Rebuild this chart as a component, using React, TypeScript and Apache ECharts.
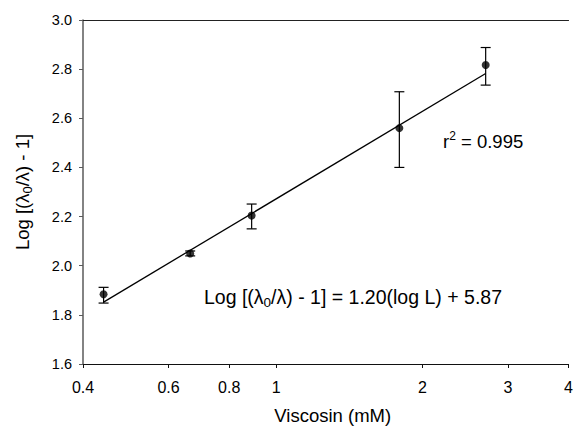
import React, { useEffect, useRef } from "react";
import * as echarts from "echarts";

// Data
const concentrations = [0.441, 0.665, 0.89, 1.793, 2.7]; // Viscosin (mM)
const logRatio = [1.884, 2.05, 2.204, 2.56, 2.817];
const errLow = [1.848, 2.04, 2.15, 2.4, 2.735];
const errHigh = [1.912, 2.06, 2.251, 2.708, 2.888];
const fitX = [0.441, 2.7];
const fitY = [1.852, 2.782];
const xTickValues = [0.4, 0.6, 0.8, 1, 2, 3, 4];
const xTickLabels = ["0.4", "0.6", "0.8", "1", "2", "3", "4"];
const equationText = "1.20(log L) + 5.87";
const r2Text = "0.995";

const FONT = "'Liberation Sans', Arial, Helvetica, sans-serif";

export default function App() {
  const ref = useRef<HTMLDivElement>(null);
  useEffect(() => {
    if (!ref.current) return;
    const chart = echarts.init(ref.current, null, { renderer: "svg" });
    const points = concentrations.map((x, i) => [x, logRatio[i]]);
    const errData = concentrations.map((x, i) => [x, errLow[i], errHigh[i]]);
    const fitData = fitX.map((x, i) => [x, fitY[i]]);
    const richMain = { fontSize: 18.5, fontFamily: FONT, color: "#000" };
    const richEq = { fontSize: 19.5, fontFamily: FONT, color: "#000" };
    chart.setOption({
      animation: false,
      backgroundColor: "#fff",
      grid: { left: 83, right: 3, top: 20, bottom: 63.5, containLabel: false },
      xAxis: [
        {
          type: "log",
          min: 0.4,
          max: 4,
          logBase: 10,
          name: "Viscosin (mM)",
          nameLocation: "middle",
          nameGap: 42,
          nameTextStyle: { fontSize: 18.5, fontFamily: FONT, color: "#000", padding: [0, 0, 0, 14] },
          axisLine: { show: true, lineStyle: { color: "#111", width: 1 } },
          axisTick: {
            show: true,
            inside: false,
            length: 4,
            customValues: xTickValues,
            lineStyle: { color: "#111", width: 1 },
          },
          minorTick: { show: false },
          axisLabel: {
            show: true,
            margin: 15,
            fontSize: 16,
            fontFamily: FONT,
            color: "#000",
            customValues: xTickValues,
            formatter: (v: number) => {
              const idx = xTickValues.findIndex((t) => Math.abs(t - v) < 1e-6);
              return idx >= 0 ? xTickLabels[idx] : "";
            },
          },
          splitLine: { show: false },
        },
        {
          type: "log",
          min: 0.4,
          max: 4,
          position: "top",
          axisLine: { show: true, lineStyle: { color: "#222", width: 1 } },
          axisTick: { show: false },
          axisLabel: { show: false },
          splitLine: { show: false },
        },
      ],
      yAxis: {
        type: "value",
        min: 1.6,
        max: 3.0,
        interval: 0.2,
        name: "{a|Log [(λ}{s|0}{a|/λ) - 1]}",
        nameLocation: "middle",
        nameRotate: 90,
        nameGap: 49,
        nameTextStyle: {
          rich: {
            a: { ...richMain, verticalAlign: "middle" },
            s: { fontSize: 13, fontFamily: FONT, color: "#000", verticalAlign: "middle", padding: [10, 0, 0, 0] },
          },
        },
        axisLine: { show: true, lineStyle: { color: "#5a5a5a", width: 1.5 } },
        axisTick: { show: true, inside: false, length: 4, lineStyle: { color: "#5a5a5a", width: 1 } },
        axisLabel: {
          margin: 11,
          fontSize: 14.5,
          fontFamily: FONT,
          color: "#000",
          formatter: (v: number) => v.toFixed(1),
        },
        splitLine: { show: false },
      },
      series: [
        {
          type: "line",
          data: fitData,
          symbol: "none",
          lineStyle: { color: "#000", width: 1.3 },
          silent: true,
          z: 2,
        },
        {
          type: "custom",
          data: errData,
          z: 3,
          renderItem: (params: any, api: any) => {
            const x = api.value(0);
            const lo = api.coord([x, api.value(1)]);
            const hi = api.coord([x, api.value(2)]);
            const hw = 5;
            const style = { stroke: "#000", lineWidth: 1.2 };
            return {
              type: "group",
              children: [
                { type: "line", shape: { x1: lo[0], y1: lo[1], x2: hi[0], y2: hi[1] }, style },
                { type: "line", shape: { x1: lo[0] - hw, y1: lo[1], x2: lo[0] + hw, y2: lo[1] }, style },
                { type: "line", shape: { x1: hi[0] - hw, y1: hi[1], x2: hi[0] + hw, y2: hi[1] }, style },
              ],
            };
          },
          encode: { x: 0, y: [1, 2] },
        },
        {
          type: "scatter",
          data: points,
          symbol: "circle",
          symbolSize: 8,
          itemStyle: { color: "#000" },
          z: 4,
        },
      ],
      graphic: [
        {
          type: "text",
          left: 204,
          top: 287,
          style: {
            text: "{a|Log [(λ}{s|0}{a|/λ) - 1] = " + equationText + "}",
            rich: {
              a: { ...richEq, verticalAlign: "middle" },
              s: { fontSize: 13.5, fontFamily: FONT, color: "#000", verticalAlign: "middle", padding: [10, 0, 0, 0] },
            },
          },
        },
        {
          type: "text",
          left: 443,
          top: 130,
          style: {
            text: "{a|r}{p|2}{a| = " + r2Text + "}",
            rich: {
              a: { ...richMain, verticalAlign: "middle" },
              p: { fontSize: 12, fontFamily: FONT, color: "#000", verticalAlign: "middle", padding: [0, 0, 10, 0] },
            },
          },
        },
      ],
    });
    return () => chart.dispose();
  }, []);
  return (
    <div
      ref={ref}
      style={{ position: "fixed", left: 0, top: 0, width: 576, height: 430, background: "#fff" }}
    />
  );
}
